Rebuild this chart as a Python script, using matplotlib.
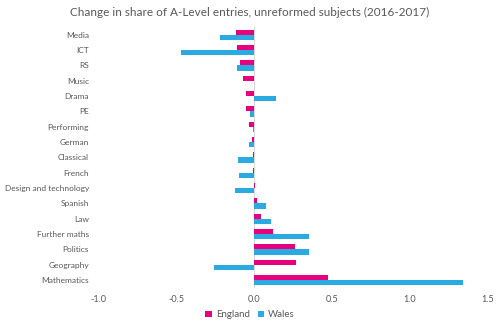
import matplotlib
matplotlib.use("Agg")
import matplotlib.pyplot as plt
import numpy as np

plt.rcParams['font.family'] = ['Lato', 'DejaVu Sans']

# Change in share of entries, top to bottom
subjects = ["Media", "ICT", "RS", "Music", "Drama", "PE", "Performing", "German",
            "Classical", "French", "Design and technology", "Spanish", "Law",
            "Further maths", "Politics", "Geography", "Mathematics"]
england = [-0.117, -0.108, -0.089, -0.070, -0.051, -0.051, -0.032, -0.015,
           -0.008, -0.006, 0.008, 0.021, 0.047, 0.121, 0.263, 0.270, 0.473]
wales = [-0.217, -0.471, -0.110, 0.003, 0.142, -0.025, -0.008, -0.032,
         -0.104, -0.096, -0.121, 0.079, 0.110, 0.352, 0.352, -0.255, 1.338]

ENG_COL = "#E6007E"
WAL_COL = "#29ABE2"
TXT_COL = "#595959"

fig = plt.figure(figsize=(5, 3.27), dpi=100)
ax = fig.add_axes([0.196, 0.120, 0.780, 0.797])

y = np.arange(len(subjects))
h = 0.34
ax.barh(y - h / 2, england, height=h, color=ENG_COL, label="England")
ax.barh(y + h / 2, wales, height=h, color=WAL_COL, label="Wales")

ax.set_ylim(len(subjects) - 0.5, -0.5)
ax.set_xlim(-1.0, 1.5)
ax.set_xticks([-1.0, -0.5, 0.0, 0.5, 1.0, 1.5])
ax.set_xticklabels(["-1.0", "-0.5", "0.0", "0.5", "1.0", "1.5"])
ax.set_yticks(y)
ax.set_yticklabels(subjects)
ax.tick_params(length=0, labelsize=6.6, colors=TXT_COL)
ax.tick_params(axis='y', labelsize=6.0, pad=6.5)
ax.tick_params(axis='x', pad=5.5)
for s in ax.spines.values():
    s.set_visible(False)
ax.axvline(0, color="#D9D9D9", lw=0.8, zorder=0)

fig.text(0.5, 0.963, "Change in share of A-Level entries, unreformed subjects (2016-2017)",
         ha="center", va="center", fontsize=8.5, color=TXT_COL)

fig.legend(loc="center", bbox_to_anchor=(0.5, 0.037), ncol=2, frameon=False,
           fontsize=7, labelcolor=TXT_COL, handlelength=0.7, handleheight=0.7,
           handletextpad=0.4, columnspacing=0.8)

fig.savefig("out.png", dpi=100)
